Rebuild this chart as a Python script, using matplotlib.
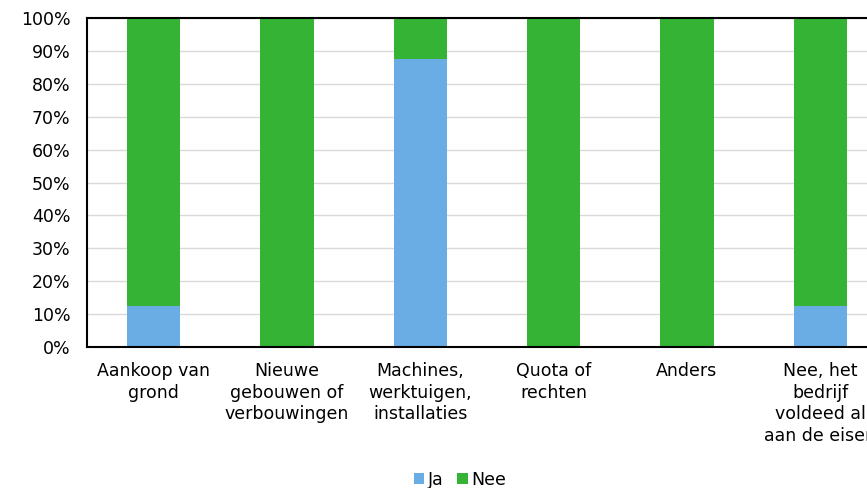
import matplotlib.pyplot as plt
from matplotlib.ticker import PercentFormatter

categories = ["Aankoop van\ngrond", "Nieuwe\ngebouwen of\nverbouwingen",
              "Machines,\nwerktuigen,\ninstallaties", "Quota of\nrechten",
              "Anders", "Nee, het\nbedrijf\nvoldeed al\naan de eisen"]
ja = [12.5, 0, 87.5, 0, 0, 12.5]
nee = [87.5, 100, 12.5, 100, 100, 87.5]

fig = plt.figure(figsize=(8.67, 4.88), dpi=100)
ax = fig.add_axes([0.1003, 0.289, 0.9227, 0.674])

x = range(len(categories))
ax.bar(x, ja, width=0.4, color='#6aace4', label='Ja', zorder=2)
ax.bar(x, nee, width=0.4, bottom=ja, color='#34b334', label='Nee', zorder=2)

ax.set_xlim(-0.5, 5.5)
ax.set_ylim(0, 100)
ax.set_yticks(range(0, 101, 10))
ax.yaxis.set_major_formatter(PercentFormatter(decimals=0))
ax.set_xticks(list(x))
ax.set_xticklabels(categories, fontsize=12.5, linespacing=1.25)
ax.tick_params(axis='y', labelsize=12.5, length=0, pad=12)
ax.tick_params(axis='x', length=0, pad=11)
ax.grid(axis='y', color='#d9d9d9', linewidth=1, zorder=0)
for s in ['left', 'bottom', 'top']:
    ax.spines[s].set_linewidth(1.5)
ax.spines['right'].set_visible(False)

ax.legend(loc='center', bbox_to_anchor=(460 / 867, 1 - 480 / 488), bbox_transform=fig.transFigure,
          ncol=2, frameon=False, fontsize=12.5, handlelength=0.6, handleheight=0.6,
          handletextpad=0.2, columnspacing=0.8)

fig.savefig('out.png', dpi=100)
